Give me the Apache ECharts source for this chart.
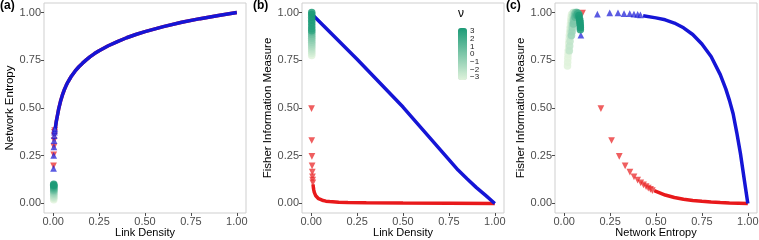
<!DOCTYPE html>
<html>
<head>
<meta charset="utf-8">
<script src="https://cdn.jsdelivr.net/npm/echarts@6/dist/echarts.min.js"></script>
<style>
  html, body { margin: 0; padding: 0; background: #fff; }
  #chart { width: 759px; height: 240px; }
</style>
</head>
<body>
<div id="chart"></div>
<script>
const axisTicks = [0, 0.25, 0.5, 0.75, 1];
const nuTicks = [-3, -2, -1, 0, 1, 2, 3];

// (a) network entropy vs link density
const entropyCurveA = [[0.011,0.39],[0.014,0.41],[0.017,0.43],[0.02,0.445],[0.025,0.47],[0.03,0.495],[0.035,0.515],[0.04,0.535],[0.05,0.567],[0.06,0.594],[0.07,0.616],[0.08,0.636],[0.09,0.652],[0.1,0.668],[0.12,0.694],[0.14,0.716],[0.16,0.735],[0.18,0.752],[0.2,0.768],[0.225,0.785],[0.25,0.8],[0.3,0.826],[0.35,0.848],[0.4,0.868],[0.45,0.885],[0.5,0.9],[0.6,0.926],[0.7,0.949],[0.8,0.968],[0.9,0.985],[1.0,1.0]];
const blueSparseA = [[0.002,0.181],[0.003,0.248],[0.004,0.293],[0.005,0.326],[0.006,0.352],[0.007,0.37],[0.008,0.38],[0.009,0.39]];
const redSparseA = [[0.002,0.2],[0.003,0.258],[0.004,0.3],[0.005,0.332],[0.006,0.358],[0.007,0.375],[0.008,0.385]];
const greenA = [[0.003,0.02,-3],[0.003,0.027,-2.6],[0.003,0.034,-2.2],[0.003,0.041,-1.8],[0.003,0.048,-1.4],[0.003,0.055,-1],[0.003,0.061,-0.5],[0.003,0.066,0],[0.003,0.071,0.5],[0.003,0.076,1],[0.003,0.081,1.5],[0.003,0.086,2],[0.003,0.091,2.5],[0.003,0.096,3],[0.003,0.1,3]];

// (b) fisher information vs link density
const blueCurveB = [[0.006,0.99],[0.25,0.755],[0.5,0.505],[0.75,0.23],[0.8,0.175],[0.85,0.128],[0.9,0.083],[0.95,0.042],[1.0,0.0]];
const redSparseB = [[0.002,0.5],[0.003,0.333],[0.004,0.25],[0.005,0.2],[0.006,0.167],[0.007,0.143],[0.008,0.125],[0.009,0.111]];
const redCurveB = [[0.01,0.1],[0.012,0.083],[0.014,0.071],[0.017,0.058],[0.02,0.05],[0.025,0.04],[0.03,0.033],[0.04,0.025],[0.05,0.02],[0.06,0.017],[0.08,0.012],[0.1,0.01],[0.15,0.0067],[0.2,0.005],[0.3,0.0033],[0.5,0.002],[0.75,0.0013],[1.0,0.0]];
const greenB = [[0.003,0.775,-3],[0.003,0.785,-2.7],[0.003,0.795,-2.4],[0.003,0.805,-2.1],[0.003,0.815,-1.8],[0.003,0.825,-1.5],[0.003,0.835,-1.2],[0.003,0.845,-0.9],[0.003,0.855,-0.6],[0.003,0.865,-0.3],[0.003,0.875,0],[0.003,0.885,0.4],[0.003,0.895,0.8],[0.003,0.905,2.2],[0.003,0.915,2.5],[0.003,0.93,2.7],[0.003,0.945,2.8],[0.003,0.96,2.9],[0.003,0.975,3],[0.003,0.99,3],[0.003,1.0,3]];

// (c) fisher information vs network entropy
const blueSparseC = [[0.091,0.878],[0.181,0.988],[0.248,0.995],[0.293,0.995],[0.326,0.991],[0.357,0.991],[0.38,0.989],[0.4,0.987],[0.415,0.985]];
const blueCurveC = [[0.43,0.983],[0.5,0.972],[0.55,0.962],[0.6,0.945],[0.65,0.92],[0.7,0.885],[0.75,0.835],[0.8,0.77],[0.85,0.675],[0.88,0.6],[0.9,0.54],[0.92,0.47],[0.94,0.37],[0.96,0.26],[0.98,0.13],[1.0,0.0]];
const redSparseC = [[0.1,1.0],[0.2,0.5],[0.258,0.333],[0.3,0.25],[0.332,0.2],[0.358,0.167],[0.38,0.143],[0.4,0.125],[0.417,0.111],[0.432,0.1],[0.446,0.091],[0.458,0.083],[0.47,0.077],[0.48,0.071]];
const redCurveC = [[0.49,0.067],[0.55,0.044],[0.6,0.031],[0.65,0.022],[0.7,0.015],[0.75,0.011],[0.8,0.0075],[0.85,0.005],[0.9,0.003],[0.95,0.0015],[1.0,0.0]];
const greenC = [
  [0.018,0.72,-3],[0.019,0.74,-3],[0.02,0.76,-3],[0.021,0.78,-3],[0.022,0.8,-3],[0.024,0.82,-3],[0.025,0.84,-3],[0.027,0.86,-3],[0.028,0.88,-3],[0.03,0.9,-3],[0.032,0.92,-3],[0.034,0.94,-3],[0.036,0.96,-3],[0.038,0.975,-3],[0.04,0.99,-3],
  [0.028,0.8,-2],[0.03,0.825,-2],[0.032,0.85,-2],[0.034,0.875,-2],[0.036,0.9,-2],[0.038,0.92,-2],[0.04,0.94,-2],[0.043,0.96,-2],[0.045,0.98,-2],[0.05,1.0,-2],
  [0.04,0.88,-1],[0.043,0.9,-1],[0.045,0.92,-1],[0.048,0.94,-1],[0.05,0.96,-1],[0.053,0.975,-1],[0.055,0.99,-1],[0.06,1.0,-1],
  [0.05,0.94,0],[0.053,0.955,0],[0.055,0.97,0],[0.058,0.985,0],[0.06,0.995,0],[0.065,1.0,0],
  [0.06,0.975,1],[0.063,0.985,1],[0.065,0.99,1],[0.07,1.0,1],
  [0.07,0.985,2],[0.073,0.99,2],[0.075,0.995,2],[0.08,0.99,2],
  [0.08,0.985,3],[0.083,0.97,3],[0.085,0.96,3],[0.086,0.95,3],[0.087,0.94,3],[0.088,0.93,3],[0.088,0.92,3],[0.088,0.91,3]
];

const BLUE = "#1515d6";
const RED = "#e8191b";
const TICK_COLOR = "#4d4d4d";

const panels = [
  { left: 44, xName: "Link Density", yName: "Network Entropy", label: "(a)", labelLeft: 0 },
  { left: 302, xName: "Link Density", yName: "Fisher Information Measure", label: "(b)", labelLeft: 253 },
  { left: 555, xName: "Network Entropy", yName: "Fisher Information Measure", label: "(c)", labelLeft: 506 },
];

const fmt = (v) => v.toFixed(2);

const xAxes = panels.map((p, i) => ({
  type: "value",
  gridIndex: i,
  min: -0.05,
  max: 1.05,
  name: p.xName,
  nameLocation: "middle",
  nameGap: 14,
  nameMoveOverlap: false,
  nameTextStyle: { fontSize: 11, color: "#000" },
  axisLine: { show: false, onZero: false },
  axisTick: { show: true, length: 3, customValues: axisTicks, lineStyle: { color: TICK_COLOR } },
  axisLabel: { customValues: axisTicks, formatter: fmt, fontSize: 11, color: TICK_COLOR, margin: 3 },
  splitLine: { show: false },
}));

const yAxes = panels.map((p, i) => ({
  type: "value",
  gridIndex: i,
  min: -0.05,
  max: 1.05,
  name: p.yName,
  nameLocation: "middle",
  nameGap: 28,
  nameMoveOverlap: false,
  nameTextStyle: { fontSize: 11.5, color: "#000" },
  axisLine: { show: false, onZero: false },
  axisTick: { show: true, length: 3, customValues: axisTicks, lineStyle: { color: TICK_COLOR } },
  axisLabel: { customValues: axisTicks, formatter: fmt, fontSize: 11, color: TICK_COLOR, margin: 3 },
  splitLine: { show: false },
}));

// colour bar labels for nu (category axis so every label is kept)
xAxes.push({ type: "value", gridIndex: 3, show: false });
yAxes.push({
  type: "category",
  gridIndex: 3,
  data: nuTicks.map(String),
  boundaryGap: false,
  position: "right",
  axisLine: { show: false },
  axisTick: { show: false },
  splitLine: { show: false },
  axisLabel: {
    interval: 0,
    fontSize: 8,
    color: "#222",
    margin: 3,
    formatter: (v) => v.replace("-", "\u2212"),
  },
});

const grids = panels.map((p) => ({
  left: p.left,
  top: 3,
  width: 202,
  height: 210,
  show: true,
  borderColor: "#cfcfcf",
  borderWidth: 1,
  backgroundColor: "#fff",
  outerBoundsMode: "none",
}));
grids.push({ left: 458, top: 31, width: 9, height: 46, outerBoundsMode: "none" });

const curve = (data, i, color, z) => ({
  type: "line",
  data,
  xAxisIndex: i,
  yAxisIndex: i,
  showSymbol: false,
  color,
  lineStyle: { width: 3.5, color },
  z,
  silent: true,
});

const sparse = (data, i, color, down, z) => ({
  type: "scatter",
  data,
  xAxisIndex: i,
  yAxisIndex: i,
  symbol: "emptyTriangle",
  symbolSize: 3.5,
  symbolRotate: down ? 180 : 0,
  itemStyle: { color, borderColor: color, borderWidth: 0.9, opacity: 0.7 },
  z,
  silent: true,
});

const green = (data, i) => ({
  type: "scatter",
  data,
  xAxisIndex: i,
  yAxisIndex: i,
  symbol: "circle",
  symbolSize: 7.5,
  itemStyle: { opacity: 0.85 },
  z: 5,
  silent: true,
});

const series = [
  curve(entropyCurveA, 0, RED, 2),
  sparse(redSparseA, 0, RED, true, 2),
  curve(entropyCurveA, 0, BLUE, 3),
  sparse(blueSparseA, 0, BLUE, false, 3),
  green(greenA, 0),

  sparse(redSparseB, 1, RED, true, 2),
  curve(redCurveB, 1, RED, 2),
  curve(blueCurveB, 1, BLUE, 3),
  green(greenB, 1),

  sparse(redSparseC, 2, RED, true, 2),
  curve(redCurveC, 2, RED, 2),
  sparse(blueSparseC, 2, BLUE, false, 3),
  curve(blueCurveC, 2, BLUE, 3),
  green(greenC, 2),
];

const chart = echarts.init(document.getElementById("chart"), null, { renderer: "canvas" });

chart.setOption({
  animation: false,
  backgroundColor: "#fff",
  textStyle: { fontFamily: "Liberation Sans" },
  title: [
    ...panels.map((p) => ({
      text: p.label,
      left: p.labelLeft,
      top: 0,
      padding: 0,
      textStyle: { fontSize: 12, fontWeight: "bold", color: "#000", fontFamily: "Liberation Sans" },
    })),
    { text: "\u03bd", left: 458, top: 8, padding: 0, textStyle: { fontSize: 12, fontWeight: "normal", color: "#000", fontFamily: "Liberation Sans" } },
  ],
  grid: grids,
  xAxis: xAxes,
  yAxis: yAxes,
  visualMap: {
    type: "continuous",
    min: -3,
    max: 3,
    dimension: 2,
    seriesIndex: [4, 8, 13],
    calculable: false,
    orient: "vertical",
    left: 458,
    top: 28,
    padding: 0,
    itemWidth: 9,
    itemHeight: 52,
    inRange: { color: ["#dff2db", "#1c9b77"] },
  },
  series,
});
</script>
</body>
</html>
